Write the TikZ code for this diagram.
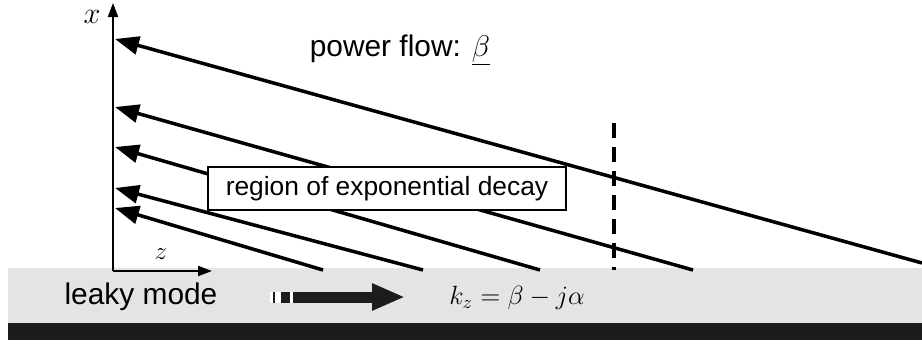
\RequirePackage{fix-cm}
\documentclass[tikz,border=0pt]{standalone}
\usepackage{fontspec}
\setmainfont{Liberation Sans}
\usepackage{xcolor}
\definecolor{guideGray}{HTML}{E3E4E6}
\definecolor{guideBlack}{HTML}{1C1C1C}
\usetikzlibrary{arrows.meta}

\begin{document}
\begin{tikzpicture}[
    ray/.style={-{Triangle[length=4.8mm,width=3.6mm]}, line width=2pt},
    axis/.style={-{Triangle[length=2.8mm,width=2mm]}, line width=1.2pt},
    lbl/.style={font=\fontsize{17}{20}\selectfont, inner sep=0pt}]
  \useasboundingbox (0,0) rectangle (18.44,6.86);
  % ------- guide: gray leaky layer on a black ground plane -------
  \fill[guideGray] (0.16,0.40) rectangle (18.44,1.50);
  \fill[guideBlack] (0.16,0.06) rectangle (18.44,0.40);
  \node[lbl] (mode) at (2.82,0.92) {leaky mode};
  \node[lbl, font=\fontsize{15}{18}\selectfont] (kz) at (10.34,0.90) {$k_z = \beta - j\alpha$};
  % mode arrow, faded tail then solid shaft
  \fill[white] (5.40,0.81) rectangle (5.86,1.03);
  \fill[guideBlack] (5.46,0.81) rectangle (5.50,1.03);
  \fill[guideBlack] (5.62,0.81) rectangle (5.80,1.03);
  \coordinate (mstart) at (5.86,0.92);
  \coordinate (mend) at (8.10,0.92);
  \draw[guideBlack, line width=0.22cm, -{Triangle[length=0.66cm,width=0.5cm]}] (mstart) -- (mend);
  % ------- rays leaving the guide -------
  \foreach \i/\ty/\ex/\ey in {1/6.08/18.44/1.60,2/4.72/13.86/1.46,3/3.92/10.80/1.46,4/3.10/8.46/1.46,5/2.70/6.46/1.46} {
    \coordinate (e\i) at (\ex,\ey);
    \coordinate (t\i) at (2.30,\ty);
    \draw[ray] (e\i) -- (t\i);
  }
  \node[lbl, font=\fontsize{15}{18}\selectfont, draw, fill=white, line width=0.9pt, minimum width=7.16cm, minimum height=0.86cm] (decay) at (7.74,3.09) {region of exponential decay};
  \node[lbl] (flow) at (8.00,5.86) {power flow: $\underline{\beta}$};
  % ------- dashed marker -------
  \coordinate (dtop) at (12.28,4.40);
  \coordinate (dbot) at (12.28,1.46);
  \draw[line width=2.2pt, dash pattern=on 0.3cm off 0.18cm] (dtop) -- (dbot);
  % ------- axes -------
  \coordinate (o) at (2.26,1.44);
  \coordinate (xtip) at (2.26,6.80);
  \coordinate (ztip) at (4.24,1.44);
  \draw[axis] (o) -- (xtip);
  \draw[axis] (o) -- (ztip);
  \node[inner sep=0pt] (xlab) at (1.84,6.52) {\LARGE$x$};
  \node[inner sep=0pt] (zlab) at (3.22,1.78) {\Large$z$};
\end{tikzpicture}
\end{document}
